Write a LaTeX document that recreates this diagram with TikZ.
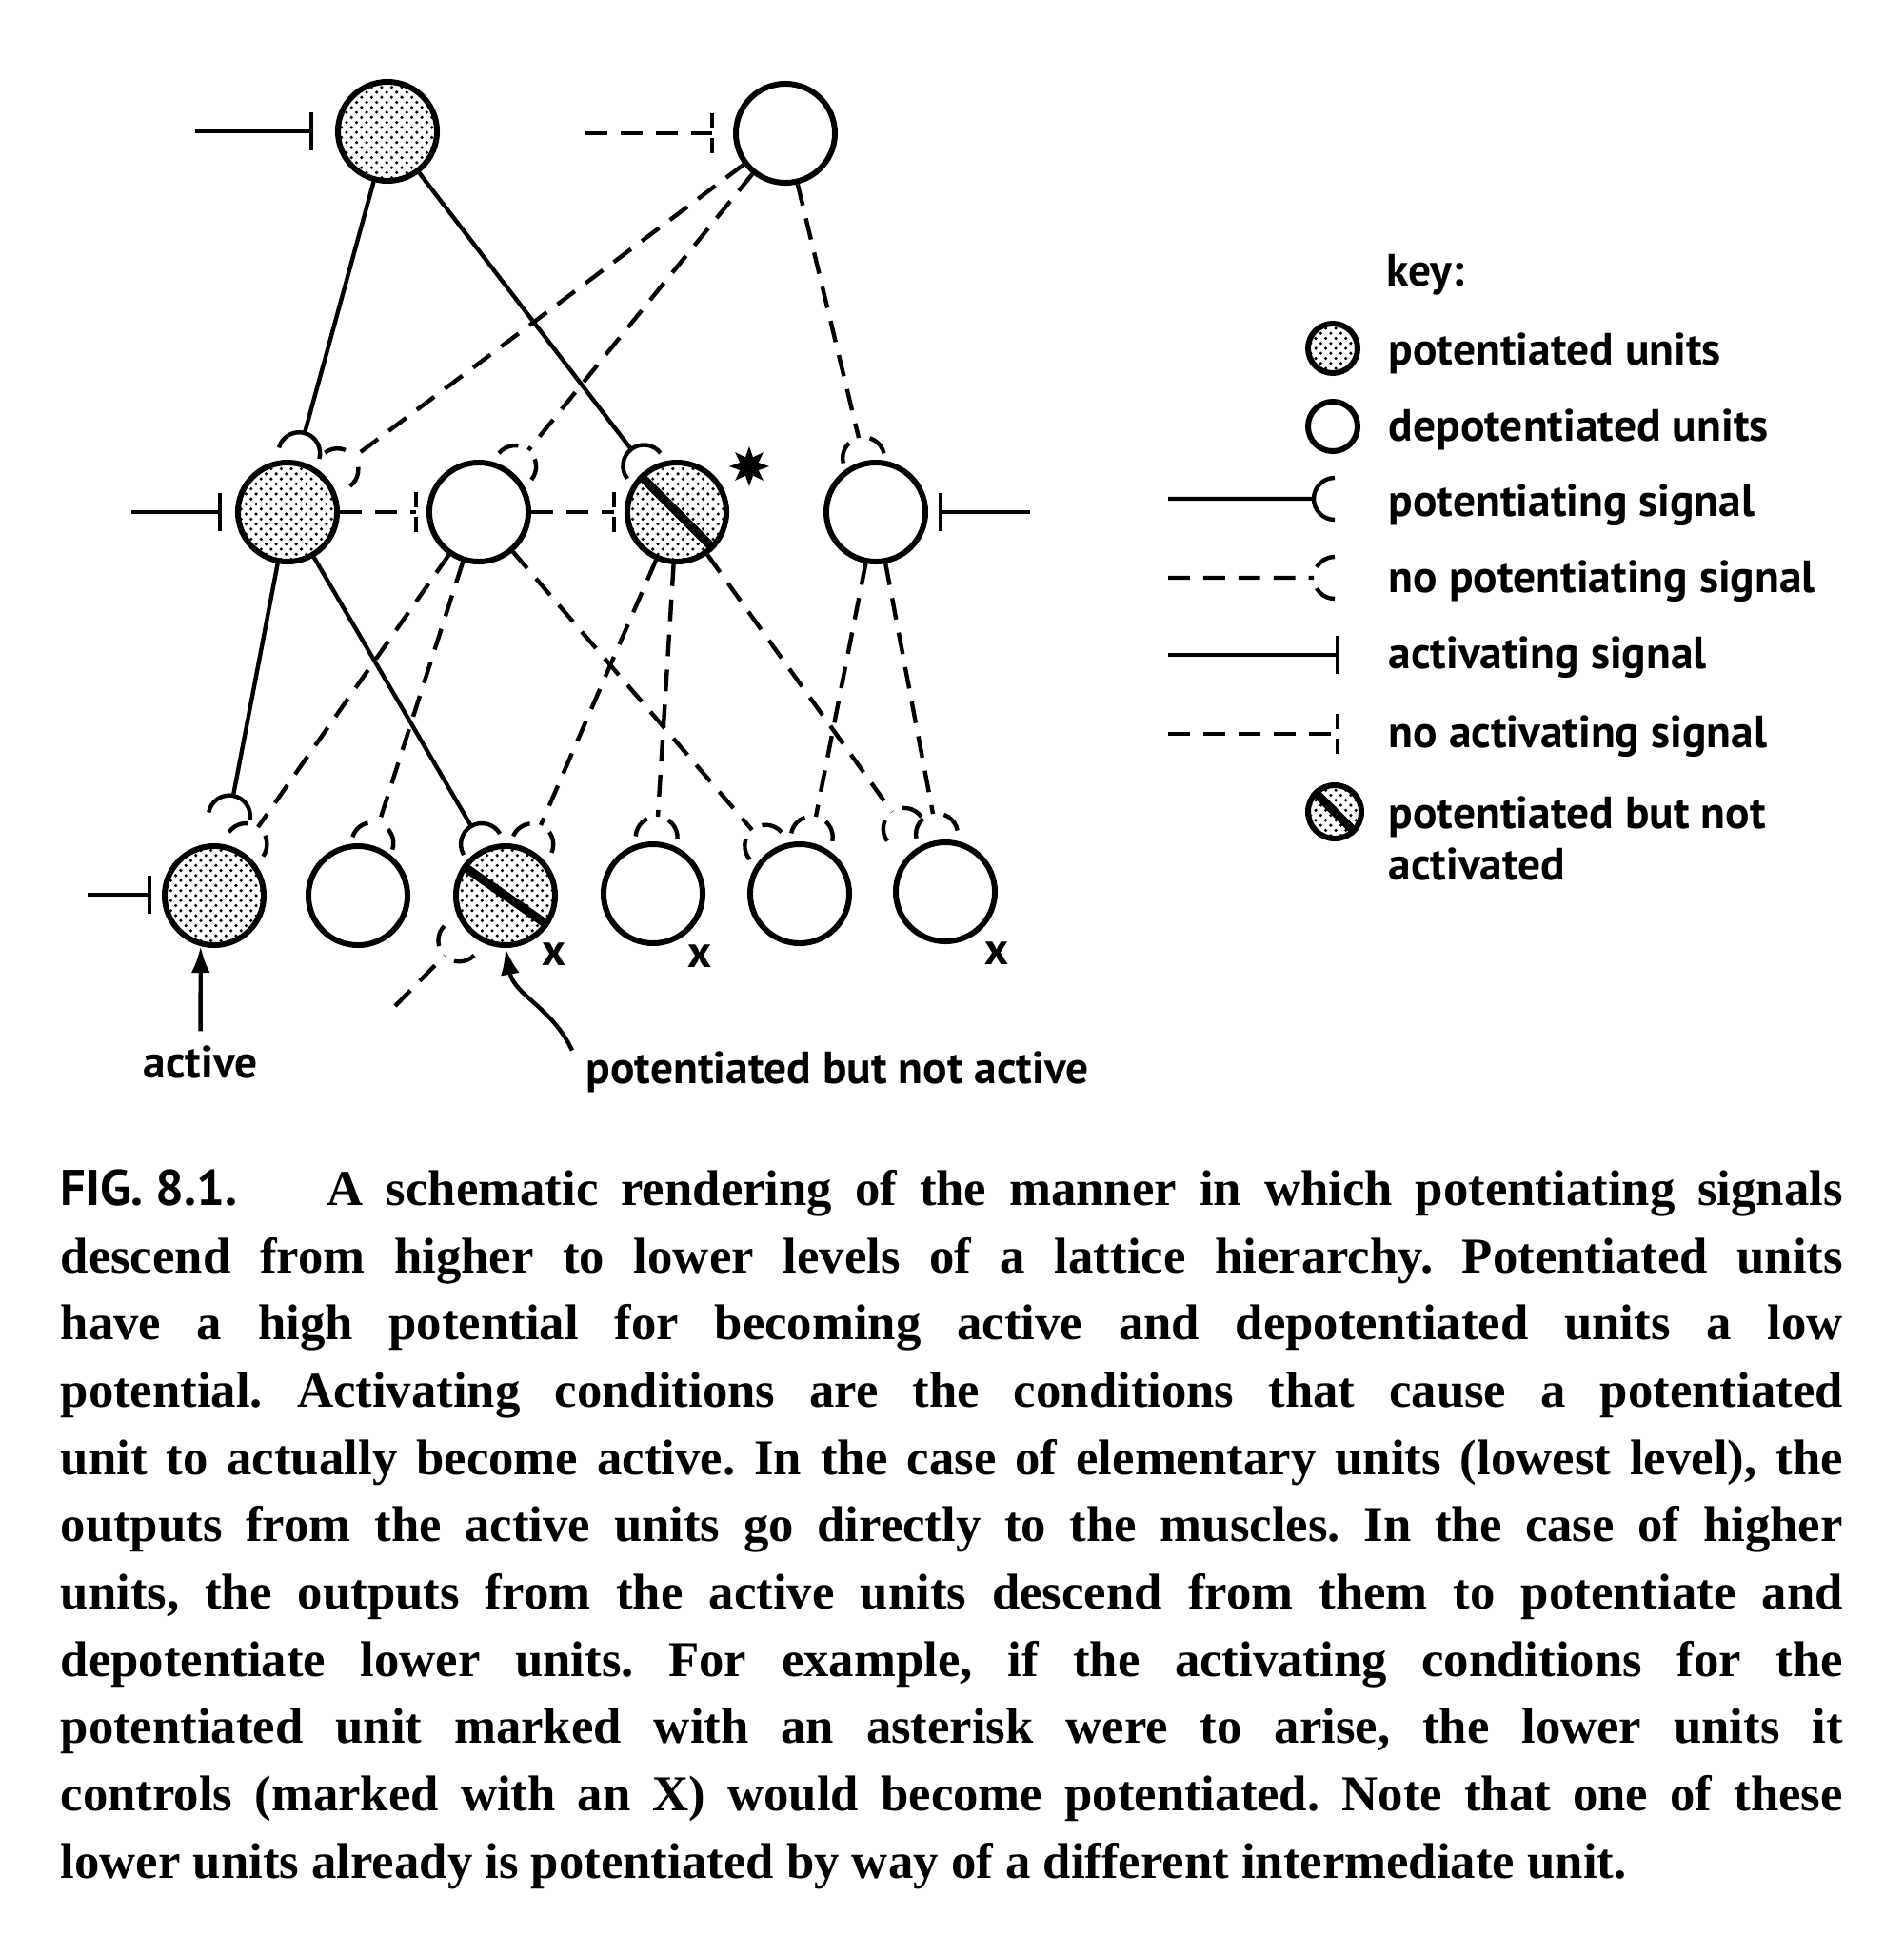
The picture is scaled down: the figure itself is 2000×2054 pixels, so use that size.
\documentclass[tikz,border=0pt]{standalone}
\usepackage{fontspec}
\setmainfont{Liberation Serif}
\newfontfamily\clefont{PT Sans}
\usetikzlibrary{calc, patterns, shapes.geometric, arrows.meta}

\begin{document}
\begin{tikzpicture}[x=0.01cm, y=0.01cm,
    unite/.style={circle, draw, line width=1.7pt, minimum size=1.04cm, inner sep=0pt},
    potentiee/.style={unite, pattern=crosshatch dots},
    barre/.style={line width=2.6pt},
    signal/.style={line width=1.25pt},
    tirets/.style={dash pattern=on 6.5pt off 4pt},
    pot/.style={signal, to path={-- (\tikztotarget)
        let \p1=($(\tikztotarget)-(\tikztostart)$), \n1={atan2(\y1,\x1)} in
        (\tikztotarget) ++(\n1:22) ++(\n1+90:22) arc[start angle=\n1+90, end angle=\n1+180, radius=22]
        (\tikztotarget) ++(\n1:22) ++(\n1-90:22) arc[start angle=\n1-90, end angle=\n1-180, radius=22]}},
    nopot/.style={pot, tirets},
    act/.style={signal, to path={-- (\tikztotarget)
        let \p1=($(\tikztotarget)-(\tikztostart)$), \n1={atan2(\y1,\x1)} in
        (\tikztotarget) ++(\n1+90:20) -- ++(\n1-90:40)}},
    noact/.style={signal, tirets, to path={-- (\tikztotarget)
        let \p1=($(\tikztotarget)-(\tikztostart)$), \n1={atan2(\y1,\x1)} in
        (\tikztotarget) ++(\n1+90:5) -- ++(\n1+90:16)
        (\tikztotarget) ++(\n1-90:5) -- ++(\n1-90:16)}},
    cle/.style={font=\clefont\bfseries\fontsize{13.5}{15.4}\selectfont, anchor=base west, inner sep=0pt},
    marque/.style={cle, anchor=center},
    fleche/.style={signal, -{Latex[length=0.28cm, width=0.2cm]}}
  ]
  \useasboundingbox (0,0) rectangle (2000,-2054);

  % Unites
  \node[potentiee] (T1) at (407,-138) {};
  \node[unite] (T2) at (825,-140) {};
  \node[potentiee] (M1) at (302,-538) {};
  \node[unite] (M2) at (503,-538) {};
  \node[potentiee] (M3) at (711,-538) {};
  \node[unite] (M4) at (920,-538) {};
  \node[potentiee] (L1) at (225,-941) {};
  \node[unite] (L2) at (376,-941) {};
  \node[potentiee] (L3) at (531,-941) {};
  \node[unite] (L4) at (686,-939) {};
  \node[unite] (L5) at (840,-939) {};
  \node[unite] (L6) at (993,-937) {};

  % Potentiees mais non activees
  \draw[barre] (M3.135) -- (M3.-45);
  \draw[barre] (L3.145) -- (L3.-35);
  \node[star, star points=8, star point ratio=2, fill, inner sep=0pt, minimum size=0.42cm] (etoile) at (787,-490) {};

  % Points d'arrivee
  \coordinate (M1c1) at (320,-455);
  \coordinate (M1c2) at (372,-480);
  \coordinate (M2c1) at (555,-473);
  \coordinate (M3c1) at (663,-472);
  \coordinate (M4c1) at (902,-460);
  \coordinate (L1c1) at (245,-836);
  \coordinate (L1c2) at (271,-869);
  \coordinate (L2c1) at (398,-865);
  \coordinate (L3c1) at (495,-868);
  \coordinate (L3c2) at (568,-867);
  \coordinate (L3c3) at (467,-1004);
  \coordinate (L3src) at (415,-1057);
  \coordinate (L4c1) at (691,-858);
  \coordinate (L5c1) at (790,-872);
  \coordinate (L5c2) at (857,-858);
  \coordinate (L6c1) at (937,-853);
  \coordinate (L6c2) at (980,-855);

  % Signaux descendants
  \draw[pot] (T1) to (M1c1);
  \draw[pot] (T1) to (M3c1);
  \draw[nopot] (T2) to (M1c2);
  \draw[nopot] (T2) to (M2c1);
  \draw[nopot] (T2) to (M4c1);
  \draw[pot] (M1) to (L1c1);
  \draw[pot] (M1) to (L3c1);
  \draw[nopot] (M2) to (L1c2);
  \draw[nopot] (M2) to (L2c1);
  \draw[nopot] (M2) to (L5c1);
  \draw[nopot] (M3) to (L3c2);
  \draw[nopot] (M3) to (L4c1);
  \draw[nopot] (M3) to (L6c1);
  \draw[nopot] (M4) to (L5c2);
  \draw[nopot] (M4) to (L6c2);
  \draw[nopot] (L3src) to (L3c3);

  % Signaux d'activation
  \coordinate (T1in) at (205,-138);
  \coordinate (T1bar) at (327,-138);
  \coordinate (T2in) at (615,-140);
  \coordinate (T2bar) at (748,-140);
  \coordinate (M1in) at (138,-538);
  \coordinate (M1bar) at (231,-538);
  \coordinate (M2bar) at (437,-538);
  \coordinate (M3bar) at (645,-538);
  \coordinate (M4in) at (1082,-538);
  \coordinate (M4bar) at (988,-538);
  \coordinate (L1in) at (92,-940);
  \coordinate (L1bar) at (157,-940);
  \draw[act] (T1in) to (T1bar);
  \draw[noact] (T2in) to (T2bar);
  \draw[act] (M1in) to (M1bar);
  \draw[noact] (M1) to (M2bar);
  \draw[noact] (M2) to (M3bar);
  \draw[act] (M4in) to (M4bar);
  \draw[act] (L1in) to (L1bar);

  % Marques x
  \node[marque] (x3) at (582,-1003) {x};
  \node[marque] (x4) at (735,-1005) {x};
  \node[marque] (x6) at (1047,-1002) {x};

  % Etiquettes
  \node[cle] (lblActif) at (150,-1132) {active};
  \node[cle] (lblPot) at (615,-1138) {potentiated but not active};
  \draw[fleche] ([yshift=4pt]lblActif.north) -- (L1.255);
  \draw[fleche] ([xshift=-4pt]lblPot.north west) to[out=115, in=-80] (L3.south);

  % Cle
  \node[cle] (titreCle) at (1456,-300) {key:};
  \node[potentiee, minimum size=0.52cm] (clePot) at (1400,-366) {};
  \node[cle] (txtPot) at (1458,-383) {potentiated units};
  \node[unite, minimum size=0.52cm] (cleDepot) at (1400,-448) {};
  \node[cle] (txtDepot) at (1458,-463) {depotentiated units};
  \coordinate (k1a) at (1227,-524);
  \coordinate (k1b) at (1380,-524);
  \coordinate (k2a) at (1227,-607);
  \coordinate (k2b) at (1380,-607);
  \coordinate (k3a) at (1227,-688);
  \coordinate (k3b) at (1405,-688);
  \coordinate (k4a) at (1227,-771);
  \coordinate (k4b) at (1405,-771);
  \draw[pot] (k1a) to (k1b);
  \node[cle] (txtSig) at (1458,-542) {potentiating signal};
  \draw[nopot] (k2a) to (k2b);
  \node[cle] (txtNoSig) at (1458,-622) {no potentiating signal};
  \draw[act] (k3a) to (k3b);
  \node[cle] (txtAct) at (1458,-702) {activating signal};
  \draw[noact] (k4a) to (k4b);
  \node[cle] (txtNoAct) at (1458,-785) {no activating signal};
  \node[potentiee, minimum size=0.56cm] (cleBarre) at (1402,-853) {};
  \draw[barre] (cleBarre.135) -- (cleBarre.-45);
  \node[cle, align=left, anchor=north west] (txtBarre) at (1458,-836) {potentiated but not\\activated};

  % Legende
  \node[anchor=north west, inner sep=0pt, text width=18.71cm, align=justify,
        font=\frenchspacing\bfseries\fontsize{15}{20.1}\selectfont] (legende) at (63,-1228)
    {\makebox[2.8cm][l]{\clefont FIG.\ 8.1.}A schematic rendering of the manner in which potentiating signals\linebreak
     descend from higher to lower levels of a lattice hierarchy. Potentiated units\linebreak
     have a high potential for becoming active and depotentiated units a low\linebreak
     potential. Activating conditions are the conditions that cause a potentiated\linebreak
     unit to actually become active. In the case of elementary units (lowest level), the\linebreak
     outputs from the active units go directly to the muscles. In the case of higher\linebreak
     units, the outputs from the active units descend from them to potentiate and\linebreak
     depotentiate lower units. For example, if the activating conditions for the\linebreak
     potentiated unit marked with an asterisk were to arise, the lower units it\linebreak
     controls (marked with an X) would become potentiated. Note that one of these\linebreak
     lower units already is potentiated by way of a different intermediate unit.};
\end{tikzpicture}
\end{document}
